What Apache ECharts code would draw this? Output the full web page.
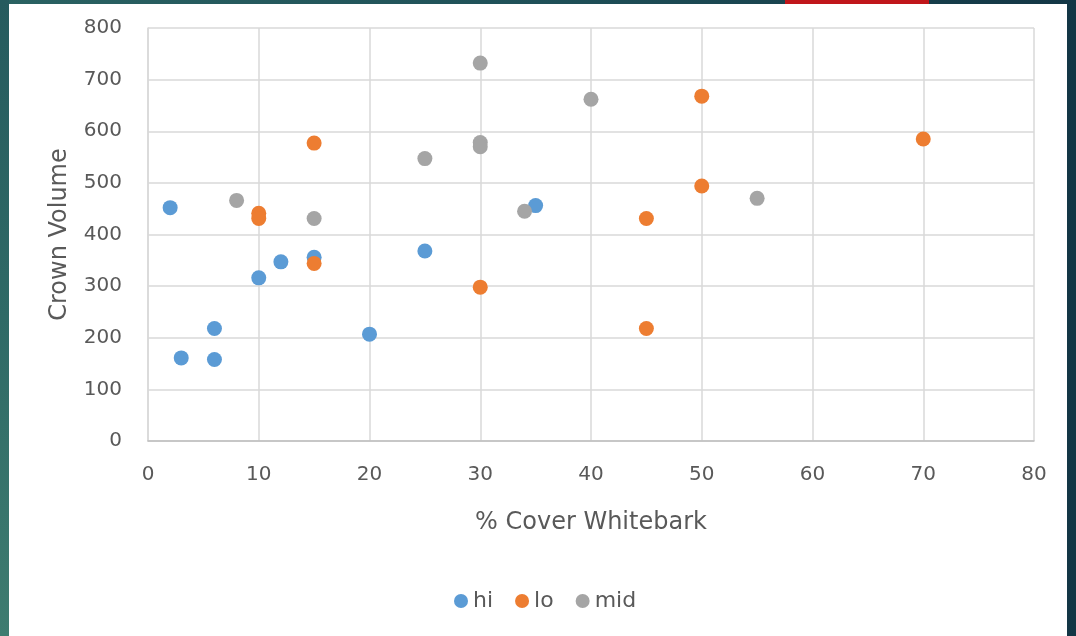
<!DOCTYPE html>
<html>
<head>
<meta charset="utf-8">
<script src="https://cdn.jsdelivr.net/npm/echarts@6/dist/echarts.min.js"></script>
<style>
  html, body { margin: 0; padding: 0; width: 1076px; height: 636px; overflow: hidden; }
  body { background: linear-gradient(to right, #2a6262 0%, #1f5058 50%, #133645 100%); position: relative; }
  #leftstrip { position: absolute; left: 0; top: 0; width: 9px; height: 636px; background: linear-gradient(to bottom, #265b5e 0%, #2f6a66 50%, #3e7c70 100%); }
  #redbar { position: absolute; left: 785px; top: 0; width: 144px; height: 4px; background: #c0161b; }
  #chart { position: absolute; left: 9px; top: 4px; width: 1058px; height: 632px; background: #ffffff; }
</style>
</head>
<body>
<div id="leftstrip"></div>
<div id="redbar"></div>
<div id="chart"></div>
<script>
const xTicks = [0, 10, 20, 30, 40, 50, 60, 70, 80];
const yTicks = [0, 100, 200, 300, 400, 500, 600, 700, 800];
const seriesNames = ['hi', 'lo', 'mid'];
const hiData = [[2, 452], [3, 161], [6, 218], [6, 158], [10, 316], [12, 347], [15, 356], [20, 207], [25, 368], [35, 456]];
const loData = [[15, 577], [10, 441], [10, 431], [15, 344], [30, 298], [50, 668], [70, 585], [50, 494], [45, 431], [45, 218]];
const midData = [[30, 732], [40, 662], [25, 547], [30, 578], [30, 570], [8, 466], [15, 431], [34, 445], [55, 470]];
const colors = ['#5B9BD5', '#ED7D31', '#A5A5A5'];

const font = '"DejaVu Sans", "Liberation Sans", sans-serif';
const textColor = '#595959';

const chart = echarts.init(document.getElementById('chart'), null, { renderer: 'canvas' });
chart.setOption({
  backgroundColor: '#ffffff',
  animation: false,
  color: colors,
  textStyle: { fontFamily: font, color: textColor },
  grid: { left: 139, right: 33, top: 24, bottom: 195, containLabel: false },
  legend: {
    data: seriesNames,
    top: 581,
    left: 440,
    icon: 'circle',
    itemWidth: 14,
    itemHeight: 14,
    itemGap: 22,
    textStyle: { fontFamily: font, fontSize: 22, color: textColor }
  },
  xAxis: {
    type: 'value',
    min: xTicks[0],
    max: xTicks[xTicks.length - 1],
    interval: 10,
    name: '% Cover Whitebark',
    nameLocation: 'middle',
    nameGap: 70,
    nameTextStyle: { fontFamily: font, fontSize: 24, color: textColor },
    axisLine: { show: true, lineStyle: { color: '#bfbfbf', width: 1.5 } },
    axisTick: { show: false },
    axisLabel: { fontFamily: font, fontSize: 20, color: textColor, margin: 24 },
    splitLine: { show: true, lineStyle: { color: '#d9d9d9', width: 1.5 } }
  },
  yAxis: {
    type: 'value',
    min: yTicks[0],
    max: yTicks[yTicks.length - 1],
    interval: 100,
    name: 'Crown Volume',
    nameLocation: 'middle',
    nameGap: 76,
    nameTextStyle: { fontFamily: font, fontSize: 24, color: textColor },
    axisLine: { show: true, lineStyle: { color: '#d9d9d9', width: 1.5 } },
    axisTick: { show: false },
    axisLabel: { fontFamily: font, fontSize: 20, color: textColor, margin: 26 },
    splitLine: { show: true, lineStyle: { color: '#d9d9d9', width: 1.5 } }
  },
  series: [
    { name: seriesNames[0], type: 'scatter', data: hiData, symbolSize: 15, itemStyle: { color: colors[0], opacity: 1 } },
    { name: seriesNames[1], type: 'scatter', data: loData, symbolSize: 15, itemStyle: { color: colors[1], opacity: 1 } },
    { name: seriesNames[2], type: 'scatter', data: midData, symbolSize: 15, itemStyle: { color: colors[2], opacity: 1 } }
  ]
});
</script>
</body>
</html>
